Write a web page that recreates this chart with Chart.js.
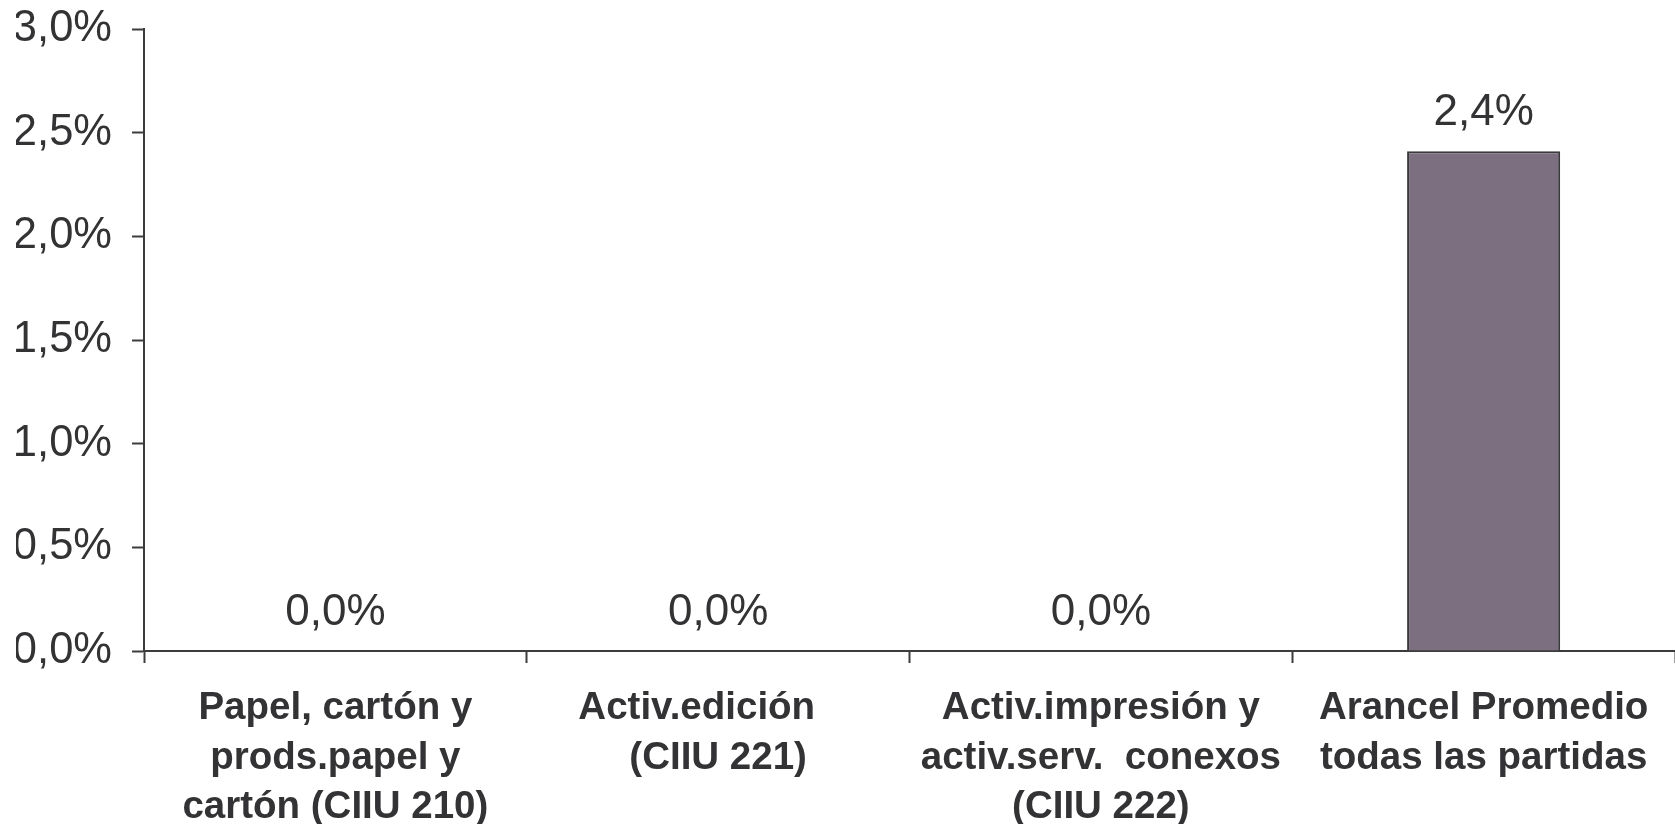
<!DOCTYPE html>
<html>
<head>
<meta charset="utf-8">
<script src="https://cdn.jsdelivr.net/npm/chart.js@4/dist/chart.umd.min.js"></script>
<style>
  html, body { margin: 0; padding: 0; background: #fff; }
  #wrap { width: 1675px; height: 824px; }
</style>
</head>
<body>
<div id="wrap"><canvas id="arancelChart" width="1675" height="824"></canvas></div>
<script>
// Chart data
const categories = [
  ['Papel, cartón y', 'prods.papel y', 'cartón (CIIU 210)'],
  ['Activ.edición    ', '(CIIU 221)'],
  ['Activ.impresión y', 'activ.serv.  conexos', '(CIIU 222)'],
  ['Arancel Promedio', 'todas las partidas']
];
const arancelValues = [0.0, 0.0, 0.0, 2.41];
const yTicks = [0, 0.5, 1.0, 1.5, 2.0, 2.5, 3.0];

const textColor = '#333335';
const axisColor = '#3c3c3e';
const fontFamily = '"Liberation Sans", Arial, Helvetica, sans-serif';

// Helper to format percent with comma decimal
function formatPct(v) {
  return v.toFixed(1).replace('.', ',') + '%';
}

// Draw value labels above each bar
const valueLabels = {
  id: 'valueLabels',
  afterDatasetsDraw(chart) {
    const ctx = chart.ctx;
    const meta = chart.getDatasetMeta(0);
    ctx.save();
    ctx.font = '44px ' + fontFamily;
    ctx.fillStyle = textColor;
    ctx.textAlign = 'center';
    ctx.textBaseline = 'middle';
    meta.data.forEach((bar, i) => {
      ctx.fillText(formatPct(arancelValues[i]), bar.x, bar.y - 38);
    });
    ctx.restore();
  }
};

const ctx = document.getElementById('arancelChart').getContext('2d');
new Chart(ctx, {
  type: 'bar',
  data: {
    labels: categories,
    datasets: [{
      data: arancelValues,
      backgroundColor: '#7b6f80',
      borderColor: '#3a3a3c',
      borderWidth: 2,
      barPercentage: 0.4,
      categoryPercentage: 1.0
    }]
  },
  options: {
    responsive: false,
    animation: false,
    layout: {
      padding: { left: 16, top: 29, right: 0, bottom: 0 }
    },
    plugins: {
      legend: { display: false },
      tooltip: { enabled: false }
    },
    scales: {
      y: {
        min: 0,
        max: 3,
        afterBuildTicks(axis) {
          axis.ticks = yTicks.map(v => ({ value: v }));
        },
        afterFit(axis) {
          axis.width = 128;
          axis.paddingTop = 0;
          axis.paddingBottom = 0;
        },
        border: { display: true, color: axisColor, width: 2 },
        grid: {
          drawOnChartArea: false,
          drawTicks: true,
          tickLength: 12,
          tickColor: axisColor,
          tickWidth: 2
        },
        ticks: {
          padding: 20,
          color: textColor,
          font: { family: fontFamily, size: 43.5 },
          callback: v => formatPct(v)
        }
      },
      x: {
        afterFit(axis) {
          axis.height = 173;
          axis.paddingLeft = 0;
          axis.paddingRight = 0;
        },
        border: { display: true, color: axisColor, width: 2 },
        grid: {
          drawOnChartArea: false,
          drawTicks: true,
          tickLength: 12,
          tickColor: axisColor,
          tickWidth: 2
        },
        ticks: {
          padding: 21,
          maxRotation: 0,
          autoSkip: false,
          color: textColor,
          font: { family: fontFamily, size: 38.5, weight: 'bold', lineHeight: 1.28 }
        }
      }
    }
  },
  plugins: [valueLabels]
});
</script>
</body>
</html>
